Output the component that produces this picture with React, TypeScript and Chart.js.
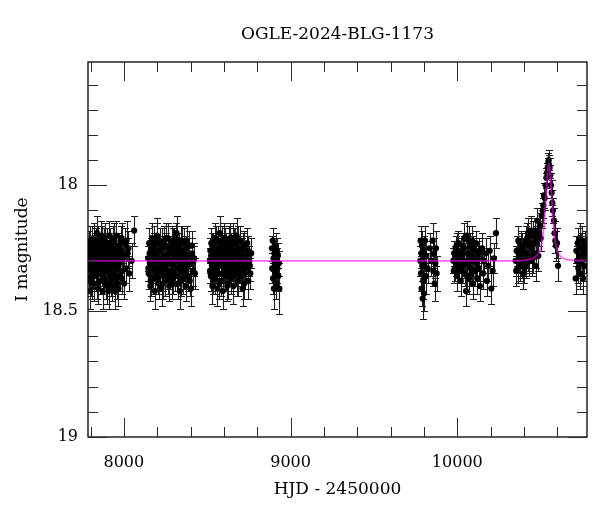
import { useEffect, useRef } from 'react';
import { Chart, registerables } from 'chart.js';

Chart.register(...registerables);

type Obs = [number, number, number]; // HJD-2450000, I mag, error

const TITLE = 'OGLE-2024-BLG-1173';
const X_TITLE = 'HJD - 2450000';
const Y_TITLE = 'I magnitude';

const xRange = [7785, 10778];
const yRange = [17.51, 19];
const xTickLabels = [8000, 9000, 10000];
const yTickLabels = [18, 18.5, 19];

const season2018: Obs[] = [
  [7786, 18.31, 0.05], [7789, 18.24, 0.06], [7791, 18.37, 0.05], [7794, 18.28, 0.05], [7796, 18.42, 0.07],
  [7799, 18.22, 0.06], [7802, 18.33, 0.05], [7804, 18.27, 0.05], [7807, 18.39, 0.06], [7810, 18.25, 0.05],
  [7812, 18.3, 0.05], [7815, 18.35, 0.06], [7818, 18.21, 0.06], [7820, 18.29, 0.05], [7823, 18.4, 0.06],
  [7826, 18.26, 0.05], [7828, 18.32, 0.05], [7831, 18.23, 0.06], [7834, 18.36, 0.05], [7836, 18.3, 0.05],
  [7839, 18.19, 0.07], [7842, 18.34, 0.05], [7844, 18.27, 0.05], [7847, 18.41, 0.06], [7850, 18.29, 0.05],
  [7853, 18.24, 0.05], [7855, 18.33, 0.06], [7858, 18.38, 0.05], [7861, 18.26, 0.05], [7863, 18.31, 0.05],
  [7866, 18.22, 0.06], [7869, 18.35, 0.05], [7872, 18.28, 0.05], [7874, 18.42, 0.07], [7877, 18.3, 0.05],
  [7880, 18.25, 0.06], [7883, 18.37, 0.05], [7885, 18.21, 0.06], [7888, 18.32, 0.05], [7891, 18.27, 0.05],
  [7894, 18.39, 0.06], [7896, 18.29, 0.05], [7899, 18.23, 0.06], [7902, 18.34, 0.05], [7905, 18.3, 0.05],
  [7908, 18.42, 0.07], [7910, 18.26, 0.05], [7913, 18.2, 0.06], [7916, 18.33, 0.05], [7919, 18.28, 0.05],
  [7922, 18.36, 0.06], [7924, 18.24, 0.05], [7927, 18.31, 0.05], [7930, 18.4, 0.06], [7933, 18.27, 0.05],
  [7936, 18.22, 0.06], [7939, 18.35, 0.05], [7942, 18.29, 0.05], [7945, 18.42, 0.07], [7948, 18.25, 0.05],
  [7951, 18.32, 0.05], [7954, 18.2, 0.06], [7957, 18.37, 0.06], [7960, 18.28, 0.05], [7963, 18.33, 0.05],
  [7967, 18.41, 0.07], [7970, 18.24, 0.05], [7974, 18.3, 0.05], [7978, 18.36, 0.06], [7982, 18.26, 0.05],
  [7986, 18.21, 0.06], [7991, 18.34, 0.05], [7996, 18.29, 0.05], [8002, 18.39, 0.06], [8008, 18.23, 0.06],
  [8016, 18.22, 0.08], [8023, 18.27, 0.06], [8032, 18.35, 0.07], [8047, 18.3, 0.07], [8062, 18.18, 0.06],
  [7787, 18.27, 0.06], [7792, 18.33, 0.05], [7797, 18.25, 0.05], [7801, 18.38, 0.06], [7806, 18.29, 0.05],
  [7811, 18.22, 0.06], [7816, 18.31, 0.05], [7821, 18.36, 0.06], [7825, 18.24, 0.05], [7830, 18.33, 0.05],
  [7835, 18.27, 0.05], [7840, 18.39, 0.06], [7845, 18.22, 0.06], [7849, 18.31, 0.05], [7854, 18.28, 0.05],
  [7859, 18.35, 0.06], [7864, 18.2, 0.06], [7868, 18.3, 0.05], [7873, 18.26, 0.05], [7878, 18.37, 0.06],
  [7882, 18.23, 0.06], [7887, 18.34, 0.05], [7892, 18.3, 0.05], [7897, 18.24, 0.05], [7901, 18.4, 0.07],
  [7906, 18.27, 0.05], [7911, 18.33, 0.05], [7915, 18.23, 0.06], [7920, 18.3, 0.05], [7925, 18.38, 0.06],
  [7929, 18.25, 0.05], [7934, 18.32, 0.05], [7938, 18.21, 0.06], [7943, 18.36, 0.06], [7947, 18.29, 0.05],
  [7952, 18.24, 0.05], [7956, 18.33, 0.05], [7961, 18.39, 0.06], [7965, 18.27, 0.05], [7972, 18.31, 0.05],
  [7980, 18.22, 0.06], [7988, 18.37, 0.06], [7999, 18.28, 0.06], [8011, 18.33, 0.06], [8027, 18.25, 0.07],
];

const season2019: Obs[] = [
  [8146, 18.29, 0.05], [8149, 18.35, 0.06], [8152, 18.23, 0.06], [8156, 18.31, 0.05], [8159, 18.4, 0.06],
  [8162, 18.26, 0.05], [8166, 18.33, 0.05], [8169, 18.21, 0.06], [8172, 18.37, 0.06], [8176, 18.28, 0.05],
  [8179, 18.32, 0.05], [8182, 18.24, 0.05], [8186, 18.42, 0.07], [8189, 18.3, 0.05], [8192, 18.27, 0.05],
  [8196, 18.35, 0.06], [8199, 18.2, 0.07], [8202, 18.33, 0.05], [8206, 18.26, 0.05], [8209, 18.39, 0.06],
  [8212, 18.29, 0.05], [8216, 18.23, 0.06], [8219, 18.34, 0.05], [8222, 18.31, 0.05], [8226, 18.41, 0.07],
  [8229, 18.25, 0.05], [8232, 18.3, 0.05], [8236, 18.36, 0.06], [8239, 18.22, 0.06], [8242, 18.32, 0.05],
  [8246, 18.28, 0.05], [8249, 18.38, 0.06], [8252, 18.24, 0.05], [8256, 18.33, 0.05], [8259, 18.29, 0.05],
  [8262, 18.21, 0.06], [8266, 18.35, 0.06], [8269, 18.27, 0.05], [8272, 18.4, 0.06], [8276, 18.31, 0.05],
  [8279, 18.25, 0.05], [8282, 18.34, 0.05], [8286, 18.22, 0.06], [8289, 18.3, 0.05], [8292, 18.37, 0.06],
  [8296, 18.26, 0.05], [8299, 18.32, 0.05], [8302, 18.23, 0.06], [8306, 18.28, 0.05], [8309, 18.36, 0.06],
  [8312, 18.21, 0.06], [8316, 18.19, 0.07], [8319, 18.33, 0.05], [8322, 18.27, 0.05], [8326, 18.39, 0.06],
  [8329, 18.24, 0.05], [8332, 18.31, 0.05], [8336, 18.42, 0.07], [8339, 18.28, 0.05], [8342, 18.22, 0.06],
  [8346, 18.34, 0.05], [8349, 18.3, 0.05], [8352, 18.26, 0.05], [8356, 18.37, 0.06], [8359, 18.23, 0.06],
  [8362, 18.32, 0.05], [8366, 18.29, 0.05], [8370, 18.4, 0.06], [8374, 18.25, 0.05], [8378, 18.33, 0.05],
  [8382, 18.28, 0.05], [8387, 18.36, 0.06], [8392, 18.24, 0.06], [8397, 18.31, 0.05], [8403, 18.41, 0.07],
  [8409, 18.27, 0.06], [8415, 18.34, 0.06], [8421, 18.29, 0.06], [8426, 18.35, 0.06],
  [8147, 18.33, 0.05], [8154, 18.27, 0.05], [8161, 18.38, 0.06], [8167, 18.25, 0.05], [8174, 18.31, 0.05],
  [8181, 18.22, 0.06], [8187, 18.34, 0.05], [8194, 18.29, 0.05], [8200, 18.21, 0.06], [8207, 18.37, 0.06],
  [8214, 18.26, 0.05], [8221, 18.32, 0.05], [8227, 18.23, 0.06], [8234, 18.39, 0.06], [8241, 18.28, 0.05],
  [8247, 18.33, 0.05], [8254, 18.21, 0.06], [8261, 18.3, 0.05], [8267, 18.37, 0.06], [8274, 18.25, 0.05],
  [8281, 18.31, 0.05], [8287, 18.39, 0.06], [8294, 18.23, 0.06], [8301, 18.35, 0.05], [8307, 18.28, 0.05],
  [8314, 18.24, 0.05], [8321, 18.36, 0.06], [8327, 18.3, 0.05], [8334, 18.26, 0.05], [8341, 18.38, 0.06],
  [8347, 18.22, 0.06], [8354, 18.32, 0.05], [8361, 18.27, 0.05], [8368, 18.35, 0.06], [8376, 18.22, 0.06],
  [8385, 18.31, 0.05], [8395, 18.38, 0.06], [8406, 18.24, 0.06], [8418, 18.3, 0.06],
];

const season2020: Obs[] = [
  [8516, 18.3, 0.05], [8519, 18.26, 0.05], [8522, 18.36, 0.06], [8525, 18.23, 0.06], [8528, 18.32, 0.05],
  [8531, 18.4, 0.07], [8534, 18.28, 0.05], [8537, 18.24, 0.05], [8540, 18.34, 0.05], [8543, 18.3, 0.05],
  [8546, 18.21, 0.06], [8549, 18.37, 0.06], [8552, 18.27, 0.05], [8555, 18.33, 0.05], [8558, 18.25, 0.05],
  [8561, 18.41, 0.07], [8564, 18.29, 0.05], [8567, 18.22, 0.06], [8570, 18.35, 0.05], [8573, 18.31, 0.05],
  [8576, 18.19, 0.07], [8579, 18.27, 0.05], [8582, 18.38, 0.06], [8585, 18.24, 0.05], [8588, 18.32, 0.05],
  [8591, 18.29, 0.05], [8594, 18.42, 0.07], [8597, 18.26, 0.05], [8600, 18.21, 0.06], [8603, 18.34, 0.05],
  [8606, 18.3, 0.05], [8609, 18.23, 0.06], [8612, 18.36, 0.06], [8615, 18.28, 0.05], [8618, 18.33, 0.05],
  [8621, 18.25, 0.05], [8624, 18.39, 0.06], [8627, 18.31, 0.05], [8630, 18.22, 0.06], [8633, 18.35, 0.05],
  [8636, 18.27, 0.05], [8639, 18.3, 0.05], [8642, 18.24, 0.05], [8645, 18.37, 0.06], [8648, 18.29, 0.05],
  [8651, 18.33, 0.05], [8654, 18.21, 0.06], [8657, 18.4, 0.07], [8660, 18.26, 0.05], [8663, 18.32, 0.05],
  [8666, 18.28, 0.05], [8669, 18.23, 0.06], [8672, 18.35, 0.05], [8676, 18.2, 0.07], [8679, 18.31, 0.05],
  [8682, 18.27, 0.05], [8685, 18.38, 0.06], [8688, 18.25, 0.05], [8691, 18.33, 0.05], [8694, 18.29, 0.05],
  [8697, 18.22, 0.06], [8700, 18.36, 0.06], [8704, 18.3, 0.05], [8708, 18.26, 0.05], [8712, 18.41, 0.07],
  [8716, 18.32, 0.05], [8720, 18.24, 0.06], [8725, 18.35, 0.06], [8730, 18.28, 0.05], [8735, 18.33, 0.06],
  [8740, 18.23, 0.06], [8746, 18.38, 0.07], [8752, 18.3, 0.06], [8758, 18.35, 0.06], [8764, 18.27, 0.06],
  [8517, 18.34, 0.05], [8523, 18.28, 0.05], [8530, 18.24, 0.05], [8536, 18.37, 0.06], [8542, 18.26, 0.05],
  [8548, 18.31, 0.05], [8554, 18.22, 0.06], [8560, 18.35, 0.05], [8566, 18.29, 0.05], [8572, 18.39, 0.06],
  [8578, 18.25, 0.05], [8584, 18.32, 0.05], [8590, 18.22, 0.06], [8596, 18.35, 0.06], [8602, 18.28, 0.05],
  [8608, 18.33, 0.05], [8614, 18.24, 0.05], [8620, 18.4, 0.06], [8626, 18.27, 0.05], [8632, 18.31, 0.05],
  [8638, 18.21, 0.06], [8644, 18.34, 0.05], [8650, 18.29, 0.05], [8656, 18.36, 0.06], [8662, 18.23, 0.06],
  [8668, 18.31, 0.05], [8674, 18.27, 0.05], [8680, 18.38, 0.06], [8686, 18.22, 0.06], [8692, 18.34, 0.05],
  [8698, 18.28, 0.05], [8706, 18.33, 0.05], [8714, 18.25, 0.06], [8722, 18.39, 0.06], [8732, 18.31, 0.06],
  [8744, 18.26, 0.06], [8756, 18.32, 0.06],
];

const season2021: Obs[] = [
  [8888, 18.25, 0.05], [8890, 18.33, 0.06], [8893, 18.22, 0.05], [8895, 18.37, 0.06], [8898, 18.29, 0.05],
  [8900, 18.41, 0.08], [8903, 18.27, 0.05], [8905, 18.31, 0.05], [8908, 18.35, 0.06], [8910, 18.24, 0.05],
  [8913, 18.39, 0.06], [8916, 18.3, 0.05], [8918, 18.26, 0.05], [8921, 18.33, 0.06], [8924, 18.28, 0.05],
  [8927, 18.36, 0.06], [8930, 18.31, 0.05], [8933, 18.41, 0.1],
];

const season2022: Obs[] = [
  [9778, 18.3, 0.06], [9780, 18.22, 0.06], [9782, 18.35, 0.07], [9784, 18.27, 0.06], [9786, 18.41, 0.07],
  [9788, 18.24, 0.06], [9790, 18.32, 0.06], [9792, 18.45, 0.08], [9794, 18.29, 0.06], [9796, 18.38, 0.07],
  [9798, 18.26, 0.06], [9800, 18.43, 0.07], [9803, 18.31, 0.06], [9806, 18.22, 0.06], [9810, 18.36, 0.07],
  [9815, 18.28, 0.06], [9822, 18.33, 0.06], [9835, 18.25, 0.06], [9845, 18.3, 0.06], [9852, 18.22, 0.07],
  [9856, 18.34, 0.06], [9860, 18.27, 0.06], [9864, 18.39, 0.07], [9868, 18.31, 0.06], [9872, 18.25, 0.07],
  [9876, 18.35, 0.07],
];

const season2023: Obs[] = [
  [9976, 18.3, 0.05], [9981, 18.27, 0.05], [9985, 18.33, 0.05], [9990, 18.25, 0.05], [9994, 18.31, 0.05],
  [9998, 18.36, 0.06], [10003, 18.28, 0.05], [10007, 18.23, 0.05], [10012, 18.34, 0.05], [10016, 18.29, 0.05],
  [10021, 18.38, 0.06], [10025, 18.26, 0.05], [10030, 18.32, 0.05], [10034, 18.24, 0.05], [10039, 18.3, 0.05],
  [10043, 18.21, 0.06], [10048, 18.35, 0.05], [10052, 18.42, 0.06], [10056, 18.2, 0.06], [10061, 18.31, 0.05],
  [10065, 18.27, 0.05], [10070, 18.37, 0.06], [10074, 18.24, 0.05], [10079, 18.33, 0.05], [10083, 18.28, 0.05],
  [10088, 18.22, 0.06], [10092, 18.39, 0.06], [10097, 18.3, 0.05], [10101, 18.26, 0.05], [10106, 18.34, 0.06],
  [10110, 18.23, 0.05], [10115, 18.31, 0.05], [10120, 18.37, 0.06], [10125, 18.27, 0.05], [10130, 18.33, 0.05],
  [10136, 18.4, 0.06], [10142, 18.29, 0.05], [10148, 18.25, 0.06], [10155, 18.35, 0.06], [10162, 18.3, 0.05],
  [10170, 18.27, 0.06], [10178, 18.38, 0.06], [10186, 18.32, 0.06], [10195, 18.26, 0.06], [10204, 18.41, 0.06],
  [10212, 18.34, 0.06], [10220, 18.29, 0.06], [10232, 18.19, 0.06],
  [9979, 18.34, 0.05], [9988, 18.29, 0.05], [9996, 18.24, 0.05], [10005, 18.32, 0.05], [10014, 18.27, 0.05],
  [10023, 18.34, 0.05], [10032, 18.28, 0.05], [10041, 18.25, 0.05], [10050, 18.31, 0.05], [10059, 18.36, 0.06],
  [10068, 18.22, 0.06], [10077, 18.3, 0.05], [10086, 18.35, 0.05], [10095, 18.25, 0.05], [10104, 18.29, 0.05],
  [10118, 18.33, 0.05], [10133, 18.26, 0.05],
];

const season2024: Obs[] = [
  [10350, 18.3, 0.06], [10356, 18.26, 0.06], [10362, 18.33, 0.06], [10366, 18.22, 0.06], [10372, 18.29, 0.06],
  [10376, 18.28, 0.06], [10382, 18.24, 0.06], [10386, 18.31, 0.06], [10392, 18.27, 0.06], [10396, 18.35, 0.06],
  [10400, 18.3, 0.06], [10406, 18.24, 0.06], [10410, 18.31, 0.06], [10416, 18.27, 0.06], [10420, 18.21, 0.06],
  [10426, 18.19, 0.06], [10430, 18.29, 0.06], [10436, 18.23, 0.06], [10440, 18.18, 0.06], [10446, 18.3, 0.06],
  [10450, 18.25, 0.06], [10456, 18.2, 0.06], [10460, 18.27, 0.06], [10466, 18.18, 0.05], [10470, 18.32, 0.06],
  [10476, 18.22, 0.06], [10480, 18.14, 0.05], [10486, 18.28, 0.06], [10490, 18.19, 0.05], [10496, 18.16, 0.05],
  [10500, 18.21, 0.05], [10506, 18.12, 0.05], [10512, 18.1, 0.05], [10516, 18.08, 0.05], [10520, 18.04, 0.05],
  [10524, 18.05, 0.05], [10530, 18.0, 0.05], [10534, 17.97, 0.04], [10538, 17.95, 0.04], [10542, 17.93, 0.04],
  [10546, 17.91, 0.04], [10548, 17.9, 0.04], [10550, 17.92, 0.04], [10554, 17.93, 0.04], [10558, 17.96, 0.04],
  [10562, 18.0, 0.05], [10566, 18.03, 0.05], [10570, 18.07, 0.05], [10574, 18.1, 0.05], [10580, 18.14, 0.05],
  [10584, 18.19, 0.05], [10588, 18.22, 0.05], [10592, 18.24, 0.06], [10598, 18.23, 0.06], [10604, 18.32, 0.06],
  [10353, 18.34, 0.06], [10369, 18.27, 0.06], [10379, 18.32, 0.06], [10389, 18.25, 0.06], [10403, 18.33, 0.06],
  [10413, 18.22, 0.06], [10423, 18.28, 0.06], [10433, 18.3, 0.06], [10443, 18.24, 0.06], [10453, 18.29, 0.06],
  [10463, 18.23, 0.06], [10473, 18.27, 0.06], [10483, 18.2, 0.06],
];

const season2025: Obs[] = [
  [10710, 18.37, 0.06], [10714, 18.26, 0.06], [10718, 18.3, 0.06], [10722, 18.23, 0.06], [10726, 18.33, 0.06],
  [10730, 18.28, 0.06], [10734, 18.21, 0.06], [10738, 18.35, 0.06], [10742, 18.25, 0.06], [10746, 18.31, 0.06],
  [10750, 18.22, 0.06], [10754, 18.37, 0.06], [10758, 18.27, 0.06], [10762, 18.32, 0.06], [10766, 18.24, 0.06],
  [10770, 18.29, 0.06], [10774, 18.26, 0.06],
];

// model curve
const modelHjd = [7785, 10300, 10400, 10440, 10470, 10490, 10505, 10518, 10528, 10536, 10542, 10548,
  10554, 10560, 10568, 10576, 10586, 10600, 10620, 10650, 10700, 10778];
const modelMag = [18.3, 18.3, 18.298, 18.293, 18.283, 18.265, 18.235, 18.17, 18.08, 18.0, 17.945, 17.915,
  17.935, 17.985, 18.07, 18.15, 18.215, 18.26, 18.283, 18.294, 18.298, 18.3];

const allObs = [...season2018, ...season2019, ...season2020, ...season2021, ...season2022,
  ...season2023, ...season2024, ...season2025];

const FONT = "'DejaVu Serif', serif";

const near = (v: number, step: number) => Math.abs(v / step - Math.round(v / step)) < 1e-6;

const errorBars = {
  id: 'errorBars',
  beforeDatasetDraw(chart: any, args: any) {
    if (args.index !== 0) return;
    const { ctx, chartArea: a, scales: { x, y } } = chart;
    ctx.save();
    ctx.beginPath();
    ctx.rect(a.left, a.top, a.right - a.left, a.bottom - a.top);
    ctx.clip();
    ctx.strokeStyle = '#1e1e1e';
    ctx.lineWidth = 1.1;
    ctx.beginPath();
    for (const p of chart.data.datasets[0].data) {
      const px = Math.round(x.getPixelForValue(p.x)) + 0.5;
      const top = Math.round(y.getPixelForValue(p.y - p.e)) + 0.5;
      const bot = Math.round(y.getPixelForValue(p.y + p.e)) + 0.5;
      ctx.moveTo(px, top); ctx.lineTo(px, bot);
      ctx.moveTo(px - 3.5, top); ctx.lineTo(px + 3.5, top);
      ctx.moveTo(px - 3.5, bot); ctx.lineTo(px + 3.5, bot);
    }
    ctx.stroke();
    ctx.restore();
  },
};

const frameTicks = {
  id: 'frameTicks',
  afterDraw(chart: any) {
    const { ctx, chartArea: a, scales: { x, y } } = chart;
    ctx.save();
    ctx.strokeStyle = '#000';
    ctx.lineWidth = 1.3;
    ctx.strokeRect(a.left, a.top, a.right - a.left, a.bottom - a.top);
    ctx.strokeStyle = '#2a2a2a';
    ctx.lineWidth = 1;
    ctx.beginPath();
    for (const t of x.ticks) {
      const len = near(t.value, 1000) ? 19 : 10;
      const px = Math.round(x.getPixelForValue(t.value)) + 0.5;
      ctx.moveTo(px, a.bottom); ctx.lineTo(px, a.bottom - len);
      ctx.moveTo(px, a.top); ctx.lineTo(px, a.top + len);
    }
    for (const t of y.ticks) {
      const len = near(t.value, 0.5) ? 19 : 10;
      const py = Math.round(y.getPixelForValue(t.value)) + 0.5;
      ctx.moveTo(a.left, py); ctx.lineTo(a.left + len, py);
      ctx.moveTo(a.right, py); ctx.lineTo(a.right - len, py);
    }
    ctx.stroke();
    ctx.fillStyle = '#000';
    ctx.font = `17px ${FONT}`;
    ctx.textAlign = 'center';
    ctx.textBaseline = 'alphabetic';
    ctx.fillText(TITLE, (a.left + a.right) / 2, 39);
    ctx.restore();
  },
};

const App: React.FC = () => {
  const canvasRef = useRef<HTMLCanvasElement>(null);
  const chartRef = useRef<Chart | null>(null);

  useEffect(() => {
    if (!canvasRef.current) return;
    Chart.defaults.font.family = FONT;
    Chart.defaults.color = '#000';

    chartRef.current = new Chart(canvasRef.current, {
      type: 'scatter',
      data: {
        datasets: [
          {
            label: 'OGLE I',
            data: allObs.map(([t, m, e]) => ({ x: t, y: m, e })),
            backgroundColor: '#000',
            borderWidth: 0,
            pointRadius: 3.1,
            order: 1,
          },
          {
            type: 'line',
            label: 'model',
            data: modelHjd.map((t, i) => ({ x: t, y: modelMag[i] })),
            borderColor: 'rgba(255,0,255,0.6)',
            borderWidth: 1.8,
            pointRadius: 0,
            cubicInterpolationMode: 'monotone',
            fill: false,
            order: 0,
          },
        ] as any,
      },
      options: {
        animation: false,
        responsive: false,
        layout: { padding: { left: 0, right: 13, top: 62, bottom: 0 } },
        plugins: {
          legend: { display: false },
          tooltip: { enabled: false },
          title: { display: false },
        },
        scales: {
          x: {
            type: 'linear',
            min: xRange[0],
            max: xRange[1],
            grid: { display: false, drawTicks: false },
            border: { display: false },
            afterBuildTicks: (s: any) => {
              const ticks = [];
              for (let v = Math.ceil(xRange[0] / 200) * 200; v <= xRange[1]; v += 200) ticks.push({ value: v });
              s.ticks = ticks;
            },
            ticks: {
              autoSkip: false,
              maxRotation: 0,
              padding: 16,
              font: { size: 16 },
              callback: (v: any) => (xTickLabels.includes(Number(v)) ? String(v) : ''),
            },
            title: {
              display: true,
              text: X_TITLE,
              font: { size: 17 },
              padding: { top: 4, bottom: 12 },
            },
            afterFit: (s: any) => { s.height = 75; },
          },
          y: {
            type: 'linear',
            reverse: true,
            min: yRange[0],
            max: yRange[1],
            grid: { display: false, drawTicks: false },
            border: { display: false },
            afterBuildTicks: (s: any) => {
              const ticks = [];
              for (let k = Math.ceil(yRange[0] * 10); k <= Math.round(yRange[1] * 10); k++) ticks.push({ value: k / 10 });
              s.ticks = ticks;
            },
            ticks: {
              autoSkip: false,
              padding: 10,
              font: { size: 16 },
              callback: (v: any) => {
                const n = Math.round(Number(v) * 100) / 100;
                return yTickLabels.includes(n) ? String(n) : '';
              },
            },
            title: {
              display: true,
              text: Y_TITLE,
              font: { size: 17 },
              padding: { top: 12, bottom: 4 },
            },
            afterFit: (s: any) => { s.width = 88; },
          },
        },
      },
      plugins: [errorBars, frameTicks],
    });

    return () => {
      chartRef.current?.destroy();
      chartRef.current = null;
    };
  }, []);

  return (
    <div style={{ position: 'fixed', left: 0, top: 0, width: 600, height: 512, background: '#fff' }}>
      <canvas ref={canvasRef} width={600} height={512} style={{ display: 'block' }} />
    </div>
  );
};

export default App;
